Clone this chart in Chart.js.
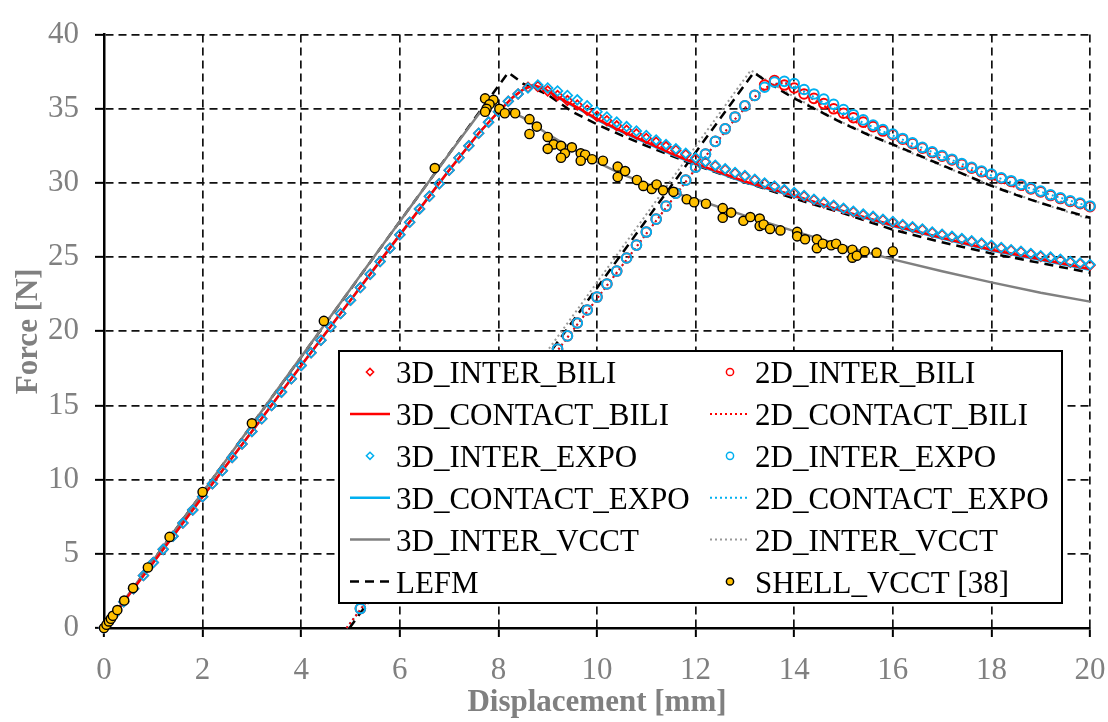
<!DOCTYPE html>
<html>
<head>
<meta charset="utf-8">
<title>Force vs Displacement</title>
<script src="https://cdn.jsdelivr.net/npm/chart.js@4.4.1/dist/chart.umd.min.js"></script>
<style>
  html, body { margin: 0; padding: 0; background: #fff; }
  #wrap { width: 1108px; height: 722px; position: relative; }
</style>
</head>
<body>
<div id="wrap"><canvas id="forceChart"></canvas></div>
<script>
// ===== DATA =====

// 3D models, markers every 0.2 mm
const dispDiamond = [0,0.2,0.4,0.6,0.8,1,1.2,1.4,1.6,1.8,2,2.2,2.4,2.6,2.8,3,3.2,3.4,3.6,3.8,
  4,4.2,4.4,4.6,4.8,5,5.2,5.4,5.6,5.8,6,6.2,6.4,6.6,6.8,7,7.2,7.4,7.6,7.8,
  8,8.2,8.4,8.6,8.8,9,9.2,9.4,9.6,9.8,10,10.2,10.4,10.6,10.8,11,11.2,11.4,11.6,11.8,
  12,12.2,12.4,12.6,12.8,13,13.2,13.4,13.6,13.8,14,14.2,14.4,14.6,14.8,15,15.2,15.4,15.6,15.8,
  16,16.2,16.4,16.6,16.8,17,17.2,17.4,17.6,17.8,18,18.2,18.4,18.6,18.8,19,19.2,19.4,19.6,19.8,20];

const inter3dBili = [0,0.88,1.77,2.65,3.54,4.42,5.3,6.19,7.07,7.96,
  8.84,9.72,10.6,11.5,12.4,13.25,14.1,15.0,15.9,16.8,
  17.7,18.55,19.4,20.3,21.2,22.1,22.95,23.85,24.7,25.6,
  26.5,27.35,28.25,29.1,29.95,30.85,31.7,32.5,33.35,34.1,
  34.8,35.5,36.0,36.45,36.5,36.2,35.9,35.55,35.25,34.9,
  34.5,34.2,33.85,33.55,33.3,33.0,32.75,32.45,32.2,31.9,
  31.6,31.4,31.15,30.9,30.65,30.45,30.2,29.95,29.75,29.5,
  29.3,29.1,28.85,28.65,28.45,28.25,28.05,27.85,27.7,27.5,
  27.35,27.15,27.0,26.85,26.65,26.5,26.35,26.2,26.05,25.9,
  25.75,25.6,25.45,25.35,25.2,25.05,24.95,24.8,24.65,24.55,
  24.45];

const inter3dExpo = [0,0.88,1.77,2.65,3.54,4.42,5.3,6.19,7.07,7.96,
  8.84,9.72,10.6,11.5,12.4,13.25,14.1,15.0,15.9,16.8,
  17.7,18.55,19.4,20.3,21.2,22.1,22.95,23.85,24.7,25.6,
  26.5,27.35,28.25,29.1,29.95,30.85,31.7,32.5,33.35,34.1,
  34.8,35.5,36.0,36.4,36.6,36.4,36.2,35.9,35.6,35.2,
  34.8,34.45,34.1,33.8,33.5,33.2,32.9,32.6,32.3,32.0,
  31.7,31.45,31.2,30.95,30.7,30.5,30.25,30.0,29.8,29.55,
  29.35,29.15,28.9,28.7,28.5,28.3,28.1,27.9,27.75,27.55,
  27.4,27.2,27.05,26.9,26.7,26.55,26.4,26.25,26.1,25.95,
  25.8,25.65,25.5,25.4,25.25,25.1,25.0,24.85,24.7,24.6,
  24.5];

const dispContact3d = [0,1,2,3,4,5,6,7,7.6,8.0,8.3,8.5,8.7,8.9,9.2,9.6,10,10.5,11,11.5,12,13,14,15,16,17,18,19,20];
const contact3dBili = [0,4.42,8.84,13.25,17.7,22.1,26.5,30.85,33.35,34.8,35.8,36.3,36.6,36.4,35.8,35.1,34.3,33.5,32.75,32.0,31.3,30.1,29.15,28.1,27.15,26.3,25.5,24.85,24.2];
const contact3dExpo = [0,4.42,8.84,13.25,17.7,22.1,26.5,30.85,33.35,34.8,35.8,36.3,36.55,36.35,35.75,35.05,34.25,33.45,32.7,31.95,31.25,30.05,29.1,28.05,27.1,26.25,25.45,24.8,24.15];

const dispVcct3d = [0,1,2,3,4,5,6,7,7.5,7.75,8.0,8.5,9,9.5,10,10.5,11,11.5,12,13,14,15,16,17,18,19,20];
const vcct3d     = [0,4.57,9.14,13.7,18.28,22.85,27.4,31.95,34.2,35.3,35.2,34.4,33.3,32.3,31.4,30.6,29.95,29.4,28.9,27.8,26.75,25.75,24.85,24.05,23.3,22.6,22.0];

// 2D models, markers every 0.2 mm
const dispCircle = [5.2,5.4,5.6,5.8,6,6.2,6.4,6.6,6.8,7,7.2,7.4,7.6,7.8,8,8.2,8.4,8.6,8.8,9,
  9.2,9.4,9.6,9.8,10,10.2,10.4,10.6,10.8,11,11.2,11.4,11.6,11.8,12,12.2,12.4,12.6,12.8,13,
  13.2,13.4,13.6,13.8,14,14.2,14.4,14.6,14.8,15,15.2,15.4,15.6,15.8,16,16.2,16.4,16.6,16.8,17,
  17.2,17.4,17.6,17.8,18,18.2,18.4,18.6,18.8,19,19.2,19.4,19.6,19.8,20];

const inter2dBili = [1.31,2.19,3.06,3.94,4.81,5.69,6.56,7.44,8.31,9.19,
  10.06,10.94,11.81,12.69,13.56,14.44,15.31,16.19,17.06,17.94,
  18.81,19.69,20.56,21.44,22.31,23.19,24.06,24.94,25.81,26.69,
  27.56,28.44,29.31,30.19,31.06,31.94,32.8,33.65,34.45,35.2,
  35.9,36.6,36.9,36.6,36.4,36.0,35.7,35.35,35.0,34.7,
  34.4,34.1,33.8,33.5,33.25,32.95,32.65,32.35,32.05,31.8,
  31.55,31.25,31.0,30.75,30.55,30.3,30.1,29.85,29.6,29.4,
  29.15,28.95,28.75,28.6,28.4];

const inter2dExpo = [1.31,2.19,3.06,3.94,4.81,5.69,6.56,7.44,8.31,9.19,
  10.06,10.94,11.81,12.69,13.56,14.44,15.31,16.19,17.06,17.94,
  18.81,19.69,20.56,21.44,22.31,23.19,24.06,24.94,25.81,26.69,
  27.56,28.44,29.31,30.19,31.06,31.94,32.8,33.65,34.45,35.2,
  35.9,36.45,36.8,36.85,36.7,36.3,36.0,35.65,35.3,34.95,
  34.6,34.25,33.9,33.6,33.3,33.0,32.7,32.4,32.1,31.85,
  31.6,31.3,31.05,30.8,30.6,30.35,30.15,29.9,29.65,29.45,
  29.2,29.0,28.8,28.65,28.45];

const dispContact2d = [4.92,6,8,10,12,12.8,13.2,13.5,13.8,14,14.5,15,15.5,16,16.5,17,17.5,18,18.5,19,19.5,20];
const contact2dBili = [0,4.72,13.47,22.2,30.95,34.3,35.8,36.6,36.75,36.4,35.4,34.5,33.7,33.0,32.3,31.6,31.0,30.3,29.7,29.15,28.65,28.15];
const contact2dExpo = [0,4.72,13.47,22.2,30.95,34.3,35.8,36.6,36.8,36.55,35.6,34.7,33.9,33.2,32.5,31.8,31.15,30.5,29.95,29.4,28.9,28.4];

const dispVcct2d = [4.92,13.12,13.5,14,14.5,15,15.5,16,16.5,17,17.5,18,18.5,19,19.5,20];
const vcct2d     = [0,37.6,36.8,35.8,34.9,34.05,33.3,32.55,31.85,31.15,30.5,29.85,29.25,28.65,28.1,27.55];

// LEFM: 3D branch then 2D branch (one legend entry)
const dispLefm3d = [0,8.2,8.5,9,9.5,10,10.5,11,11.5,12,13,14,15,16,17,18,19,20];
const lefm3d     = [0,37.45,36.7,35.95,34.8,33.95,33.2,32.5,31.85,31.2,30.05,28.95,27.95,26.85,26.0,25.25,24.6,23.95];
const dispLefm2d = [4.98,13.18,13.5,14,14.5,15,15.5,16,16.5,17,17.5,18,18.5,19,19.5,20];
const lefm2d     = [0,37.45,36.7,35.7,34.85,34.0,33.25,32.6,31.9,31.2,30.5,29.8,29.2,28.65,28.15,27.65];

// Reference shell model [38]
const dispShell = [0,0.05,0.1,0.14,0.18,0.27,0.41,0.59,0.89,1.33,
  2.0,3.0,4.46,6.71,7.73,7.9,7.82,7.76,7.73,8.02,
  8.13,8.34,8.63,8.78,8.63,9.0,9.12,9.0,9.27,9.35,
  9.27,9.49,9.67,9.76,9.67,9.9,10.12,10.42,10.57,10.42,
  10.81,10.94,11.11,11.21,11.34,11.55,11.82,11.97,12.21,12.55,
  12.72,12.55,12.97,13.11,13.3,13.3,13.38,13.51,13.72,14.06,
  14.06,14.22,14.46,14.46,14.58,14.75,14.85,14.98,15.18,15.18,
  15.27,15.43,15.67,16.0];
const forceShell = [0,0.22,0.44,0.62,0.82,1.21,1.85,2.69,4.08,6.14,
  9.17,13.8,20.7,31.0,35.7,35.6,35.3,35.0,34.8,35.0,
  34.7,34.7,34.3,33.8,33.3,33.1,32.6,32.3,32.5,32.0,
  31.7,32.4,32.0,31.9,31.5,31.6,31.5,31.1,30.8,30.4,
  30.2,29.8,29.6,29.9,29.5,29.4,28.9,28.7,28.6,28.3,
  28.0,27.65,27.45,27.7,27.6,27.1,27.2,26.9,26.8,26.7,
  26.4,26.2,26.2,25.6,25.9,25.8,25.9,25.55,25.5,24.96,
  25.1,25.4,25.3,25.4];

const xTicks = { min: 0, max: 20, step: 2 };
const yTicks = { min: 0, max: 40, step: 5 };

// legend layout: two columns, top to bottom
const legendCols = [
  ["3D_INTER_BILI", "3D_CONTACT_BILI", "3D_INTER_EXPO", "3D_CONTACT_EXPO", "3D_INTER_VCCT", "LEFM"],
  ["2D_INTER_BILI", "2D_CONTACT_BILI", "2D_INTER_EXPO", "2D_CONTACT_EXPO", "2D_INTER_VCCT", "SHELL_VCCT [38]"]
];

// ===== HELPERS =====
const RED = "#ff0000";
const CYAN = "#00b0f0";
const GREY = "#808080";
const GOLD = "#ffc000";

function pts(xs, ys) {
  return xs.map((x, i) => ({ x: x, y: ys[i] }));
}

function markerSet(label, xs, ys, style, color, order) {
  return {
    label, data: pts(xs, ys), showLine: false, order,
    pointStyle: style, pointRadius: 4.8,
    pointBorderColor: color, pointBackgroundColor: "rgba(0,0,0,0)",
    pointBorderWidth: style === "circle" ? 2 : 1.7, clip: false
  };
}

function lineSet(label, data, color, width, dash, order) {
  return {
    label, data, showLine: true, order,
    borderColor: color, borderWidth: width, borderDash: dash,
    pointRadius: 0, fill: false, tension: 0, spanGaps: false, clip: false
  };
}

// ===== LEGEND INSIDE THE PLOT =====
const boxLegend = {
  id: "boxLegend",
  afterDatasetsDraw(chart) {
    const ctx = chart.ctx;
    const left = 339, top = 351, right = 1062, bottom = 603;
    ctx.save();
    ctx.fillStyle = "#fff";
    ctx.fillRect(left, top, right - left, bottom - top);
    ctx.lineWidth = 2;
    ctx.strokeStyle = "#000";
    ctx.setLineDash([]);
    ctx.strokeRect(left, top, right - left, bottom - top);

    ctx.font = "31px 'Liberation Serif', 'Times New Roman', serif";
    ctx.textBaseline = "alphabetic";
    const swatchX = [350, 710];
    const textX = [396, 755];

    legendCols.forEach((col, c) => {
      col.forEach((label, r) => {
        const ds = chart.data.datasets.find(d => d.label === label);
        const cy = 372 + r * 41.9;
        const x0 = swatchX[c];
        ctx.setLineDash([]);
        if (ds.showLine) {
          ctx.beginPath();
          ctx.strokeStyle = ds.borderColor;
          ctx.lineWidth = ds.borderWidth;
          ctx.setLineDash(ds.borderDash || []);
          ctx.moveTo(x0, cy);
          ctx.lineTo(x0 + 40, cy);
          ctx.stroke();
        } else {
          const cx = x0 + 20, rad = 3.6;
          ctx.beginPath();
          if (ds.pointStyle === "rectRot") {
            ctx.moveTo(cx - rad, cy);
            ctx.lineTo(cx, cy - rad);
            ctx.lineTo(cx + rad, cy);
            ctx.lineTo(cx, cy + rad);
            ctx.closePath();
          } else {
            ctx.arc(cx, cy, rad, 0, Math.PI * 2);
          }
          ctx.fillStyle = ds.pointBackgroundColor;
          ctx.fill();
          ctx.lineWidth = 1.5;
          ctx.strokeStyle = ds.pointBorderColor;
          ctx.stroke();
        }
        ctx.setLineDash([]);
        ctx.fillStyle = "#000";
        ctx.fillText(label, textX[c], cy + 11);
      });
    });
    ctx.restore();
  }
};

// ===== CHART =====
Chart.defaults.font.family = "'Liberation Serif', 'Times New Roman', serif";

const lefmData = [...pts(dispLefm3d, lefm3d), { x: 20, y: null }, ...pts(dispLefm2d, lefm2d)];

const shellSet = {
  label: "SHELL_VCCT [38]", data: pts(dispShell, forceShell), showLine: false, order: 0,
  pointStyle: "circle", pointRadius: 4.6, pointBorderColor: "#000",
  pointBackgroundColor: GOLD, pointBorderWidth: 1.4, clip: false
};

const axisGrid = {
  color: "#111",
  lineWidth: 1.7,
  drawTicks: true,
  tickLength: 9,
  tickColor: "#000",
  tickWidth: 2,
  tickBorderDash: []
};

new Chart(document.getElementById("forceChart").getContext("2d"), {
  type: "scatter",
  data: {
    datasets: [
      markerSet("3D_INTER_BILI", dispDiamond, inter3dBili, "rectRot", RED, 2),
      lineSet("3D_CONTACT_BILI", pts(dispContact3d, contact3dBili), RED, 2.5, [], 5),
      markerSet("3D_INTER_EXPO", dispDiamond, inter3dExpo, "rectRot", CYAN, 1),
      lineSet("3D_CONTACT_EXPO", pts(dispContact3d, contact3dExpo), CYAN, 2.5, [], 6),
      lineSet("3D_INTER_VCCT", pts(dispVcct3d, vcct3d), GREY, 2.5, [], 6.5),
      lineSet("LEFM", lefmData, "#000", 2.5, [9, 6], 7),
      markerSet("2D_INTER_BILI", dispCircle, inter2dBili, "circle", RED, 4),
      lineSet("2D_CONTACT_BILI", pts(dispContact2d, contact2dBili), RED, 2, [2, 3], 9),
      markerSet("2D_INTER_EXPO", dispCircle, inter2dExpo, "circle", CYAN, 3),
      lineSet("2D_CONTACT_EXPO", pts(dispContact2d, contact2dExpo), CYAN, 2, [2, 3], 10),
      lineSet("2D_INTER_VCCT", pts(dispVcct2d, vcct2d), "#999999", 2, [2, 3], 11),
      shellSet
    ]
  },
  options: {
    responsive: true,
    maintainAspectRatio: false,
    animation: false,
    events: [],
    layout: { padding: { top: 25, right: 18, left: 0, bottom: 0 } },
    plugins: {
      legend: { display: false },
      tooltip: { enabled: false }
    },
    scales: {
      x: {
        type: "linear",
        min: xTicks.min,
        max: xTicks.max,
        afterFit: scale => { scale.height = 94; scale.paddingRight = 0; scale.paddingLeft = 0; },
        border: { display: true, color: "#000", width: 2.5, dash: [8, 5] },
        grid: axisGrid,
        ticks: {
          stepSize: xTicks.step,
          color: "#808080",
          font: { size: 31 },
          padding: 15,
          maxRotation: 0
        },
        title: {
          display: true,
          text: "Displacement [mm]",
          color: "#808080",
          font: { size: 31, weight: "bold" },
          padding: { top: 0, bottom: 0 }
        }
      },
      y: {
        type: "linear",
        min: yTicks.min,
        max: yTicks.max,
        afterFit: scale => { scale.width = 104; },
        border: { display: true, color: "#000", width: 2.5, dash: [8, 5] },
        grid: axisGrid,
        ticks: {
          stepSize: yTicks.step,
          color: "#808080",
          font: { size: 31 },
          padding: 16
        },
        title: {
          display: true,
          text: "Force [N]",
          color: "#808080",
          font: { size: 31, weight: "bold" },
          padding: { top: 10, bottom: 0 }
        }
      }
    }
  },
  plugins: [boxLegend]
});
</script>
</body>
</html>
